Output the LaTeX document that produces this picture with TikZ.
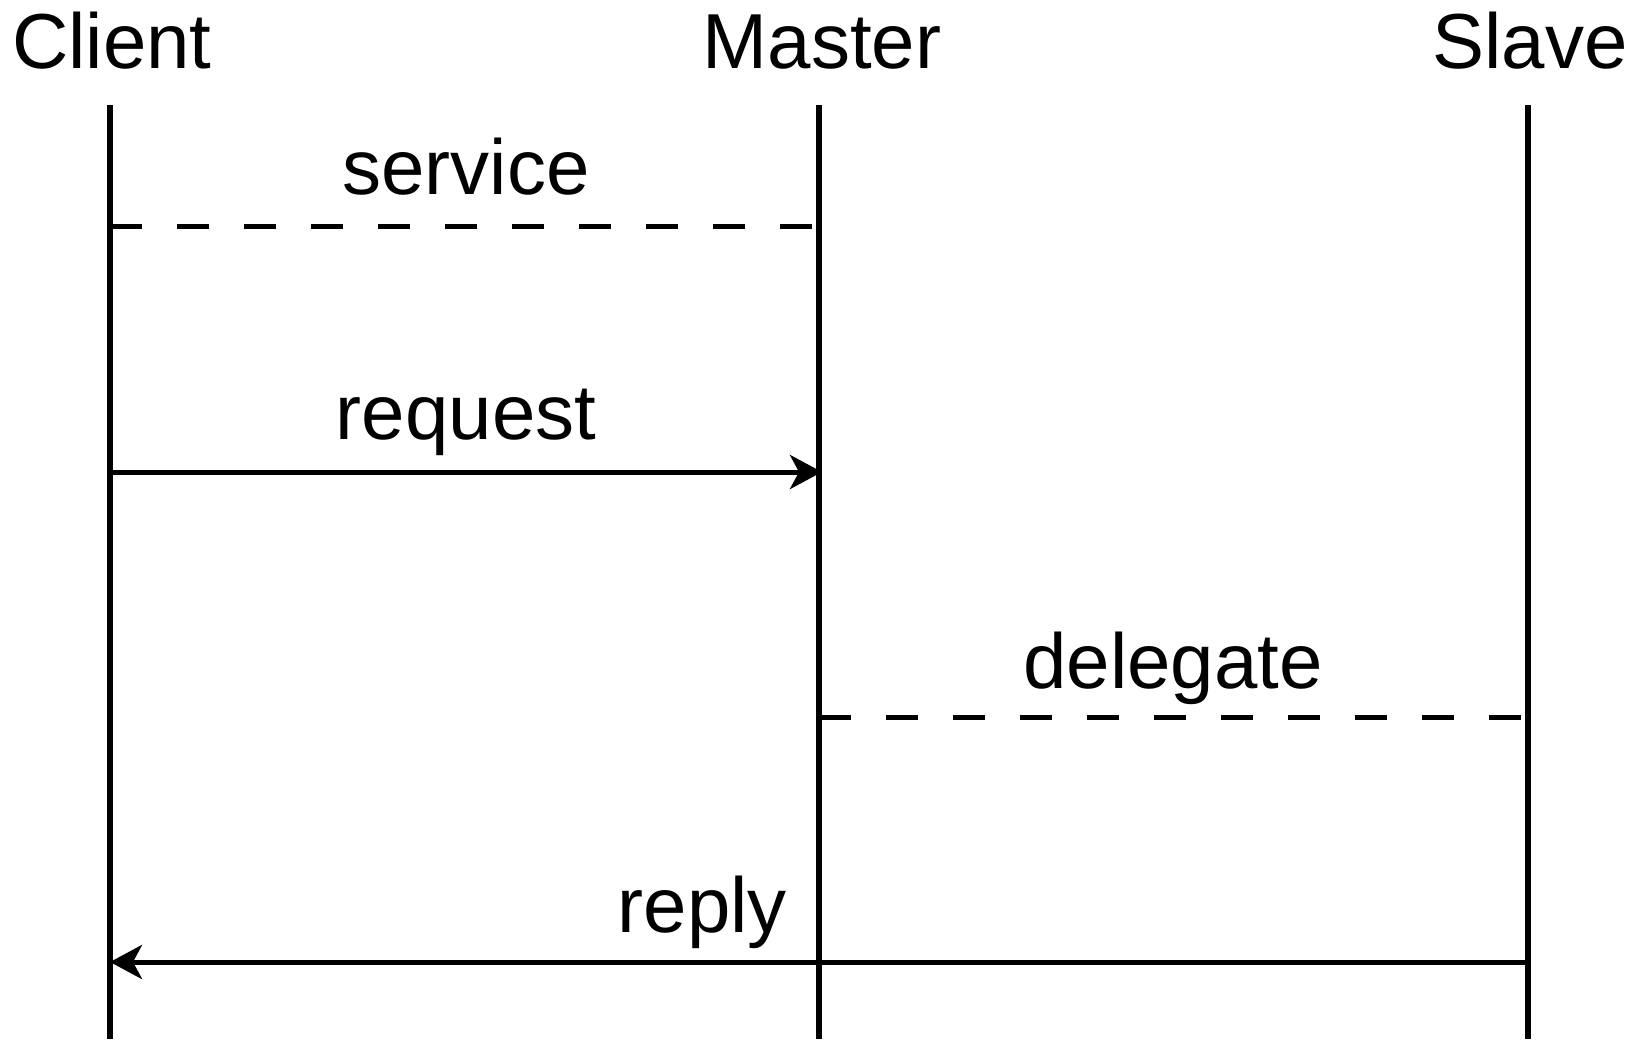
\documentclass[tikz,border=0pt]{standalone}
\usepackage{fontspec}
\setmainfont{Liberation Sans}
\usepackage{tikz}
\usetikzlibrary{arrows.meta, positioning, calc}

\begin{document}
\begin{tikzpicture}[
  x=1pt, y=-1pt,
  actor/.style={
    anchor=base,
    inner sep=0pt,
    font=\fontsize{78}{92}\selectfont
  },
  msglabel/.style={
    anchor=base,
    inner sep=0pt,
    font=\fontsize{78}{92}\selectfont
  },
  lifeline/.style={line width=5.5pt},
  call/.style={-{Stealth[length=32pt, width=34pt, inset=9pt]}, line width=5pt},
  notice/.style={line width=5pt, dash pattern=on 32pt off 35pt}
]
  \useasboundingbox (0,0) rectangle (1646,1039);

  \node[actor] (client) at (112,68) {Client};
  \node[actor] (master) at (822,68) {Master};
  \node[actor] (slave) at (1530,68) {Slave};

  \coordinate (clienttop) at (110,105);
  \coordinate (clientbot) at (110,1039);
  \coordinate (mastertop) at (819,105);
  \coordinate (masterbot) at (819,1039);
  \coordinate (slavetop) at (1528,105);
  \coordinate (slavebot) at (1528,1039);

  \draw[lifeline] (clienttop) -- (clientbot);
  \draw[lifeline] (mastertop) -- (masterbot);
  \draw[lifeline] (slavetop) -- (slavebot);

  % messages
  \coordinate (cservice) at (110,226);
  \coordinate (mservice) at (819,226);
  \coordinate (crequest) at (110,472);
  \coordinate (mrequest) at (822,472);
  \coordinate (mdelegate) at (819,717);
  \coordinate (sdelegate) at (1528,717);
  \coordinate (creply) at (110,962);
  \coordinate (mreply) at (819,962);
  \coordinate (sreply) at (1528,962);

  \draw[notice] (cservice) -- (mservice);
  \draw[call] (crequest) -- (mrequest);
  \draw[notice] (mdelegate) -- (sdelegate);
  \draw[call] (sreply) -- (creply);

  \node[msglabel] (service) at (466,194) {service};
  \node[msglabel] (request) at (466,439) {request};
  \node[msglabel] (delegate) at (1173,688) {delegate};
  \node[msglabel, anchor=base east] (reply) at (787,932) {reply};
\end{tikzpicture}
\end{document}
